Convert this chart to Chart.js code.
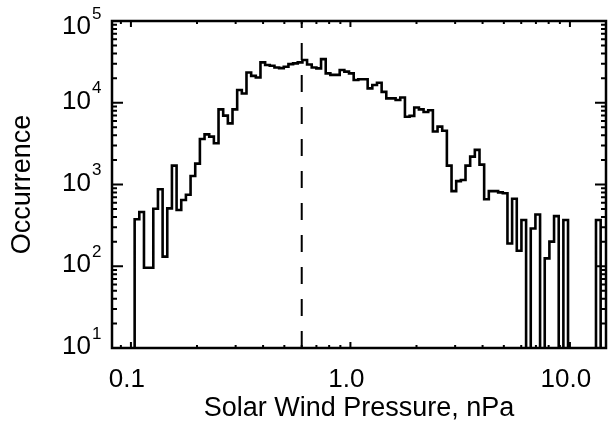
<!DOCTYPE html>
<html>
<head>
<meta charset="utf-8">
<script src="https://cdn.jsdelivr.net/npm/chart.js@4.4.1/dist/chart.umd.min.js"></script>
<style>
  html, body { margin: 0; padding: 0; background: #fff; }
  #wrap { width: 610px; height: 425px; }
</style>
</head>
<body>
<div id="wrap"><canvas id="chart" width="610" height="425"></canvas></div>
<script>
// histogram bins, equal width in log10(nPa)
const binLogStart = -0.983;
const binLogWidth = 0.02123;
const counts = [
  375, 460, 96, 96, 505, 875, 131, 510, 1700, 488,
  646, 750, 1270, 1800, 3600, 4100, 3850, 3190, 8300, 6950,
  5600, 8300, 14300, 13000, 23400, 21300, 20400, 31200, 28900, 28300,
  27000, 26500, 27600, 29700, 30300, 31200, 33300, 29400, 27000, 26300,
  34200, 22900, 21900, 21900, 25200, 24000, 22900, 19000, 19400, 19400,
  15000, 16500, 17600, 13600, 11300, 11300, 10800, 11600, 6750, 6900,
  8750, 8300, 7700, 8100, 4450, 5100, 4550, 1700, 830, 1100,
  1135, 1700, 2190, 2650, 1750, 660, 830, 830, 800, 780,
  190, 670, 155, 368, 0, 290, 430, 0, 125, 200,
  410, 0, 368, 0, 0, 0, 0, 0, 0, 368
];
const medianPressure = 0.6;
const xRange = [0.082, 14.6];
const yRange = [10, 1e5];
const xTickValues = [0.1, 1.0, 10.0];
const xTickLabels = ['0.1', '1.0', '10.0'];
const xMinorValues = [0.09, 0.2, 0.3, 0.4, 0.5, 0.6, 0.7, 0.8, 0.9, 2, 3, 4, 5, 6, 7, 8, 9];
const yTickExponents = [1, 2, 3, 4, 5];

const FONT = "'Liberation Sans', Arial, Helvetica, sans-serif";

// step outline of the histogram
const histPoints = [];
counts.forEach((c, i) => {
  const lo = Math.pow(10, binLogStart + i * binLogWidth);
  const hi = Math.pow(10, binLogStart + (i + 1) * binLogWidth);
  const v = c > 0 ? c : 1;
  if (i === 0) histPoints.push({ x: lo, y: 1 });
  histPoints.push({ x: lo, y: v }, { x: hi, y: v });
  if (i === counts.length - 1) histPoints.push({ x: hi, y: 1 });
});

const frameTicks = {
  id: 'frameTicks',
  afterDraw(chart) {
    const { ctx, chartArea: a, scales: { x, y } } = chart;
    ctx.save();
    ctx.strokeStyle = '#000';
    ctx.lineWidth = 2.5;
    ctx.strokeRect(a.left, a.top, a.right - a.left, a.bottom - a.top);

    ctx.lineWidth = 2;
    ctx.beginPath();
    const xt = (v, len) => {
      const px = x.getPixelForValue(v);
      ctx.moveTo(px, a.bottom); ctx.lineTo(px, a.bottom - len);
      ctx.moveTo(px, a.top); ctx.lineTo(px, a.top + len);
    };
    xTickValues.forEach(v => xt(v, 6));
    xMinorValues.forEach(v => xt(v, 3));
    const yt = (v, len) => {
      const py = y.getPixelForValue(v);
      ctx.moveTo(a.left, py); ctx.lineTo(a.left + len, py);
      ctx.moveTo(a.right, py); ctx.lineTo(a.right - len, py);
    };
    yTickExponents.forEach(e => {
      yt(Math.pow(10, e), 11);
      if (e < 5) for (let m = 2; m <= 9; m++) yt(m * Math.pow(10, e), 5);
    });
    ctx.stroke();

    // y tick labels: 10 with superscript exponent
    ctx.fillStyle = '#000';
    yTickExponents.forEach(e => {
      let py = y.getPixelForValue(Math.pow(10, e)) - 1;
      if (e === 5) py += 7; // top label sits a bit lower in the original
      ctx.font = '26px ' + FONT;
      ctx.textAlign = 'right';
      ctx.textBaseline = 'middle';
      ctx.fillText('10', 91, py);
      ctx.font = '17px ' + FONT;
      ctx.textAlign = 'left';
      ctx.fillText(String(e), 92, py - 13);
    });
    ctx.restore();
  }
};

new Chart(document.getElementById('chart'), {
  type: 'scatter',
  data: {
    datasets: [
      {
        data: histPoints,
        showLine: true,
        borderColor: '#000',
        borderWidth: 2.6,
        pointRadius: 0,
        tension: 0,
        clip: 1
      },
      {
        data: [{ x: medianPressure, y: yRange[0] }, { x: medianPressure, y: yRange[1] }],
        showLine: true,
        borderColor: '#000',
        borderWidth: 2,
        borderDash: [17, 15],
        pointRadius: 0
      }
    ]
  },
  options: {
    responsive: false,
    animation: false,
    devicePixelRatio: 1,
    layout: { padding: { top: 21, right: 4, left: 0, bottom: 0 } },
    plugins: { legend: { display: false }, tooltip: { enabled: false } },
    scales: {
      x: {
        type: 'logarithmic',
        min: xRange[0],
        max: xRange[1],
        grid: { display: false },
        border: { display: false },
        afterBuildTicks: s => { s.ticks = xTickValues.map(v => ({ value: v })); },
        afterFit: s => { s.height = 77; },
        ticks: {
          autoSkip: false,
          maxRotation: 0,
          padding: 8,
          labelOffset: -4,
          color: '#000',
          font: { family: FONT, size: 26 },
          callback: (v, i) => xTickLabels[i]
        },
        title: {
          display: true,
          text: 'Solar Wind Pressure, nPa',
          color: '#000',
          font: { family: FONT, size: 27 },
          padding: { top: 0, bottom: 0 }
        }
      },
      y: {
        type: 'logarithmic',
        min: yRange[0],
        max: yRange[1],
        grid: { display: false },
        border: { display: false },
        afterFit: s => { s.width = 112; },
        ticks: { display: false },
        title: {
          display: true,
          text: 'Occurrence',
          color: '#000',
          font: { family: FONT, size: 27 },
          padding: { top: 6, bottom: 0 }
        }
      }
    }
  },
  plugins: [frameTicks]
});
</script>
</body>
</html>
